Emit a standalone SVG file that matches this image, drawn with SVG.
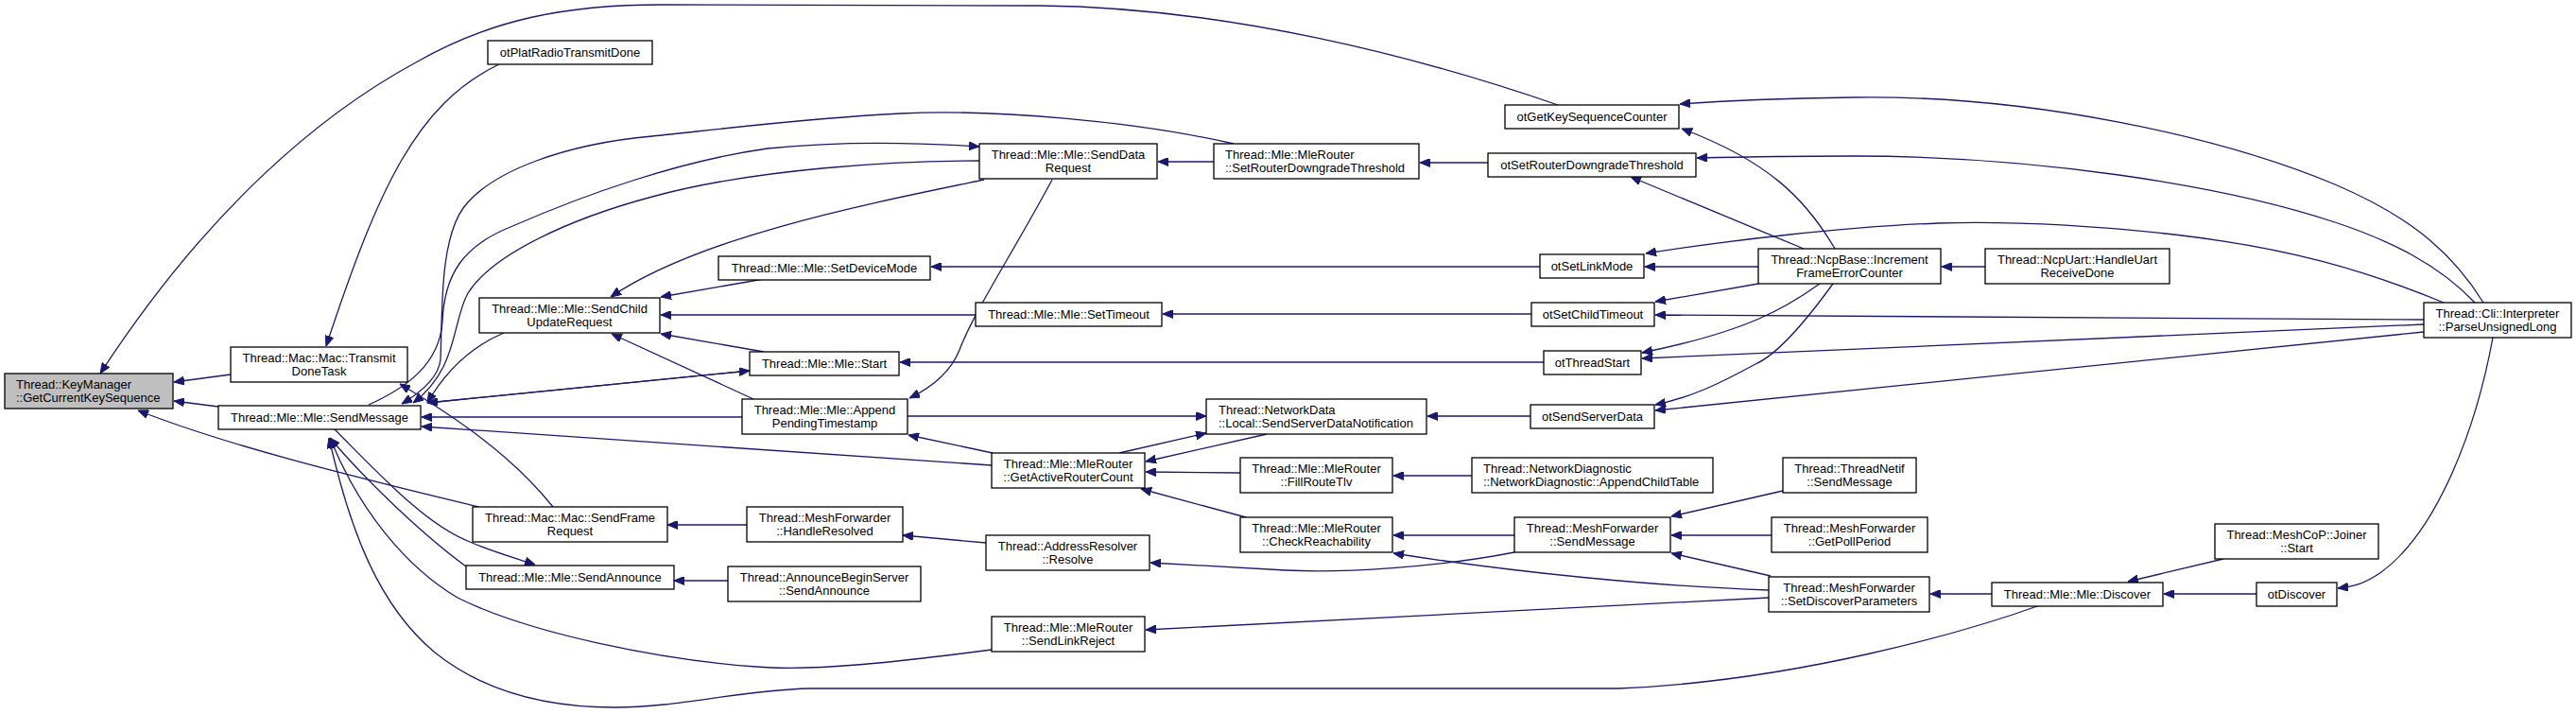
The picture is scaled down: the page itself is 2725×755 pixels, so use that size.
<svg xmlns="http://www.w3.org/2000/svg" width="2725" height="755" viewBox="0 0 2725 755">
<style>
.node rect{fill:#fff;stroke:#000;stroke-width:1.3}
.node.root rect{fill:#bfbfbf}
.node text{font-family:"Liberation Sans",Arial,Helvetica,sans-serif;font-size:13px;fill:#000;text-anchor:middle}
.node text.l{text-anchor:start}
.edges path{fill:none;stroke:#191970;stroke-width:1.3;marker-end:url(#ah)}
</style>
<defs>
<marker id="ah" viewBox="0 0 11 9" refX="11" refY="4.5" markerWidth="11" markerHeight="9" markerUnits="userSpaceOnUse" orient="auto"><path d="M0,0 L11,4.5 L0,9 z" fill="#191970" stroke="#191970" stroke-width="1"/></marker>
</defs>
<rect width="2725" height="755" fill="#fff"/>
<g class="edges">
<path d="M244,396 L184,404"/>
<path d="M231,430 L184,424"/>
<path d="M1648,111 C1500,60 1300,8 1100,6 L700,5 C600,5 520,20 440,66 C340,120 220,220 106,395"/>
<path d="M506,536 C400,510 250,475 146,434"/>
<path d="M528,68 C440,110 400,200 345,366"/>
<path d="M585,536 C540,480 480,440 423,406"/>
<path d="M533,352 C495,368 470,395 452,426"/>
<path d="M793,392 L452,426"/>
<path d="M452,426 L793,392"/>
<path d="M1305,152 C1200,128 1050,115 953,120 C850,125 750,138 690,144 C600,152 520,180 490,220 C465,255 468,330 466,380 C464,400 445,415 425,427"/>
<path d="M390,428 C430,410 465,385 468,340 C470,290 490,260 540,240 C620,205 720,170 812,157 C880,150 960,150 1036,155"/>
<path d="M1036,170 C950,170 800,178 690,208 C600,232 520,270 495,310 C478,340 485,390 437,426"/>
<path d="M1041,190 C920,215 740,250 646,314"/>
<path d="M808,295 L699,314"/>
<path d="M1032,333 L699,333"/>
<path d="M808,372 L699,353"/>
<path d="M797,422 L647,353"/>
<path d="M785,441 L446,441"/>
<path d="M1049,492 L446,451"/>
<path d="M1113,190 C1070,270 1030,330 1015,370 C1005,395 985,410 962,421"/>
<path d="M1050,479 L961,460"/>
<path d="M960,440 L1276,440"/>
<path d="M1184,479 L1276,458"/>
<path d="M1340,459 L1212,488"/>
<path d="M1312,500 L1212,499"/>
<path d="M1318,547 L1207,517"/>
<path d="M1049,687 C950,700 860,710 800,705 C700,698 560,670 484,632 C430,600 380,540 349,463"/>
<path d="M2158,640 C2080,668 1900,720 1712,728 L856,728 C780,730 720,748 650,748 C560,748 500,722 460,690 C400,640 370,560 348,463"/>
<path d="M493,599 C440,560 380,500 349,463"/>
<path d="M354,454 C400,500 450,555 497,573 C520,583 545,590 566,597"/>
<path d="M790,555 L706,555"/>
<path d="M770,614 L713,614"/>
<path d="M1043,574 L955,566"/>
<path d="M1602,584 C1520,600 1420,606 1360,603 C1300,600 1250,597 1217,595"/>
<path d="M1871,632 L1212,666"/>
<path d="M1871,624 C1750,620 1600,605 1474,585"/>
<path d="M1886,519 L1768,546"/>
<path d="M1874,566 L1768,566"/>
<path d="M1873,609 L1768,585"/>
<path d="M1574,172 L1502,172"/>
<path d="M1284,171 L1225,171"/>
<path d="M1629,282 L985,282"/>
<path d="M1620,332 L1230,332"/>
<path d="M1633,383 L952,383"/>
<path d="M1619,440 L1510,440"/>
<path d="M1557,503 L1474,503"/>
<path d="M1602,566 L1474,566"/>
<path d="M2627,320 C2590,260 2540,225 2470,195 C2350,145 2150,100 1960,103 C1890,104 1830,106 1777,110"/>
<path d="M1941,263 C1910,210 1870,170 1779,136"/>
<path d="M2618,320 C2580,280 2530,255 2470,235 C2350,195 2150,165 1960,165 C1890,165 1840,166 1795,167"/>
<path d="M1908,263 L1725,187"/>
<path d="M2585,320 C2500,285 2420,262 2300,248 C2200,237 2120,234 2050,236 C1950,240 1830,254 1741,268"/>
<path d="M1860,282 L1740,282"/>
<path d="M1860,300 L1751,319"/>
<path d="M2564,338 L1751,333"/>
<path d="M1925,300 C1890,325 1850,350 1737,373"/>
<path d="M2564,343 L1737,379"/>
<path d="M1939,300 C1910,340 1880,375 1857,385 C1820,405 1790,420 1751,428"/>
<path d="M2564,351 L1751,434"/>
<path d="M2100,282 L2054,282"/>
<path d="M2637,357 C2620,450 2580,560 2519,605 C2500,618 2490,620 2473,622"/>
<path d="M2387,628 L2289,628"/>
<path d="M2352,591 L2251,615"/>
<path d="M2107,628 L2042,628"/>
</g>
<g id="n_keymgr" class="node root"><rect x="5" y="395" width="178" height="37"/><text class="l" x="17" y="411">Thread::KeyManager</text><text class="l" x="17" y="425">::GetCurrentKeySequence</text></g>
<g id="n_transmitdone" class="node"><rect x="244" y="367" width="187" height="37"/><text x="337.5" y="383">Thread::Mac::Mac::Transmit</text><text x="337.5" y="397">DoneTask</text></g>
<g id="n_sendmessage" class="node"><rect x="231" y="429" width="214" height="25"/><text x="338" y="446">Thread::Mle::Mle::SendMessage</text></g>
<g id="n_otplatradio" class="node"><rect x="516" y="43" width="174" height="25"/><text x="603" y="60">otPlatRadioTransmitDone</text></g>
<g id="n_sendchild" class="node"><rect x="507" y="315" width="191" height="37"/><text x="602.5" y="331">Thread::Mle::Mle::SendChild</text><text x="602.5" y="345">UpdateRequest</text></g>
<g id="n_sendframe" class="node"><rect x="500" y="536" width="206" height="37"/><text x="603" y="552">Thread::Mac::Mac::SendFrame</text><text x="603" y="566">Request</text></g>
<g id="n_sendannounce" class="node"><rect x="493" y="598" width="220" height="25"/><text x="603" y="615">Thread::Mle::Mle::SendAnnounce</text></g>
<g id="n_setdevicemode" class="node"><rect x="760" y="271" width="224" height="25"/><text x="872" y="288">Thread::Mle::Mle::SetDeviceMode</text></g>
<g id="n_start" class="node"><rect x="793" y="372" width="158" height="25"/><text x="872" y="389">Thread::Mle::Mle::Start</text></g>
<g id="n_append" class="node"><rect x="785" y="422" width="175" height="37"/><text x="872.5" y="438">Thread::Mle::Mle::Append</text><text x="872.5" y="452">PendingTimestamp</text></g>
<g id="n_handleresolved" class="node"><rect x="790" y="536" width="165" height="37"/><text x="872.5" y="552">Thread::MeshForwarder</text><text x="872.5" y="566">::HandleResolved</text></g>
<g id="n_announcebegin" class="node"><rect x="770" y="599" width="204" height="37"/><text x="872" y="615">Thread::AnnounceBeginServer</text><text x="872" y="629">::SendAnnounce</text></g>
<g id="n_senddatareq" class="node"><rect x="1036" y="152" width="188" height="37"/><text x="1130" y="168">Thread::Mle::Mle::SendData</text><text x="1130" y="182">Request</text></g>
<g id="n_settimeout" class="node"><rect x="1032" y="320" width="197" height="25"/><text x="1130.5" y="337">Thread::Mle::Mle::SetTimeout</text></g>
<g id="n_getactiverc" class="node"><rect x="1049" y="479" width="162" height="37"/><text x="1130" y="495">Thread::Mle::MleRouter</text><text x="1130" y="509">::GetActiveRouterCount</text></g>
<g id="n_resolve" class="node"><rect x="1043" y="566" width="173" height="37"/><text x="1129.5" y="582">Thread::AddressResolver</text><text x="1129.5" y="596">::Resolve</text></g>
<g id="n_sendlinkreject" class="node"><rect x="1049" y="652" width="162" height="37"/><text x="1130" y="668">Thread::Mle::MleRouter</text><text x="1130" y="682">::SendLinkReject</text></g>
<g id="n_setrdt" class="node"><rect x="1284" y="152" width="217" height="37"/><text class="l" x="1296" y="168">Thread::Mle::MleRouter</text><text class="l" x="1296" y="182">::SetRouterDowngradeThreshold</text></g>
<g id="n_ssdn" class="node"><rect x="1276" y="422" width="233" height="37"/><text class="l" x="1289" y="438">Thread::NetworkData</text><text class="l" x="1289" y="452">::Local::SendServerDataNotification</text></g>
<g id="n_fillroutetlv" class="node"><rect x="1312" y="484" width="161" height="37"/><text x="1392.5" y="500">Thread::Mle::MleRouter</text><text x="1392.5" y="514">::FillRouteTlv</text></g>
<g id="n_checkreach" class="node"><rect x="1312" y="547" width="161" height="37"/><text x="1392.5" y="563">Thread::Mle::MleRouter</text><text x="1392.5" y="577">::CheckReachability</text></g>
<g id="n_otgetkeyseq" class="node"><rect x="1592" y="111" width="184" height="25"/><text x="1684" y="128">otGetKeySequenceCounter</text></g>
<g id="n_otsetrdt" class="node"><rect x="1574" y="162" width="220" height="25"/><text x="1684" y="179">otSetRouterDowngradeThreshold</text></g>
<g id="n_otsetlinkmode" class="node"><rect x="1629" y="269" width="110" height="25"/><text x="1684" y="286">otSetLinkMode</text></g>
<g id="n_otsetchildtimeout" class="node"><rect x="1620" y="320" width="130" height="25"/><text x="1685" y="337">otSetChildTimeout</text></g>
<g id="n_otthreadstart" class="node"><rect x="1633" y="371" width="103" height="25"/><text x="1684.5" y="388">otThreadStart</text></g>
<g id="n_otsendserverdata" class="node"><rect x="1619" y="428" width="131" height="25"/><text x="1684.5" y="445">otSendServerData</text></g>
<g id="n_appendchildtable" class="node"><rect x="1557" y="484" width="255" height="37"/><text class="l" x="1569" y="500">Thread::NetworkDiagnostic</text><text class="l" x="1569" y="514">::NetworkDiagnostic::AppendChildTable</text></g>
<g id="n_mfsendmessage" class="node"><rect x="1602" y="547" width="165" height="37"/><text x="1684.5" y="563">Thread::MeshForwarder</text><text x="1684.5" y="577">::SendMessage</text></g>
<g id="n_increment" class="node"><rect x="1860" y="263" width="193" height="37"/><text x="1956.5" y="279">Thread::NcpBase::Increment</text><text x="1956.5" y="293">FrameErrorCounter</text></g>
<g id="n_threadnetif" class="node"><rect x="1886" y="484" width="141" height="37"/><text x="1956.5" y="500">Thread::ThreadNetif</text><text x="1956.5" y="514">::SendMessage</text></g>
<g id="n_getpollperiod" class="node"><rect x="1874" y="547" width="165" height="37"/><text x="1956.5" y="563">Thread::MeshForwarder</text><text x="1956.5" y="577">::GetPollPeriod</text></g>
<g id="n_setdiscoverparams" class="node"><rect x="1871" y="610" width="170" height="37"/><text x="1956" y="626">Thread::MeshForwarder</text><text x="1956" y="640">::SetDiscoverParameters</text></g>
<g id="n_handleuart" class="node"><rect x="2100" y="263" width="195" height="37"/><text x="2197.5" y="279">Thread::NcpUart::HandleUart</text><text x="2197.5" y="293">ReceiveDone</text></g>
<g id="n_discover" class="node"><rect x="2107" y="616" width="181" height="25"/><text x="2197.5" y="633">Thread::Mle::Mle::Discover</text></g>
<g id="n_joinerstart" class="node"><rect x="2343" y="554" width="173" height="37"/><text x="2429.5" y="570">Thread::MeshCoP::Joiner</text><text x="2429.5" y="584">::Start</text></g>
<g id="n_otdiscover" class="node"><rect x="2387" y="616" width="85" height="25"/><text x="2429.5" y="633">otDiscover</text></g>
<g id="n_parseul" class="node"><rect x="2564" y="320" width="156" height="37"/><text x="2642" y="336">Thread::Cli::Interpreter</text><text x="2642" y="350">::ParseUnsignedLong</text></g>
</svg>
